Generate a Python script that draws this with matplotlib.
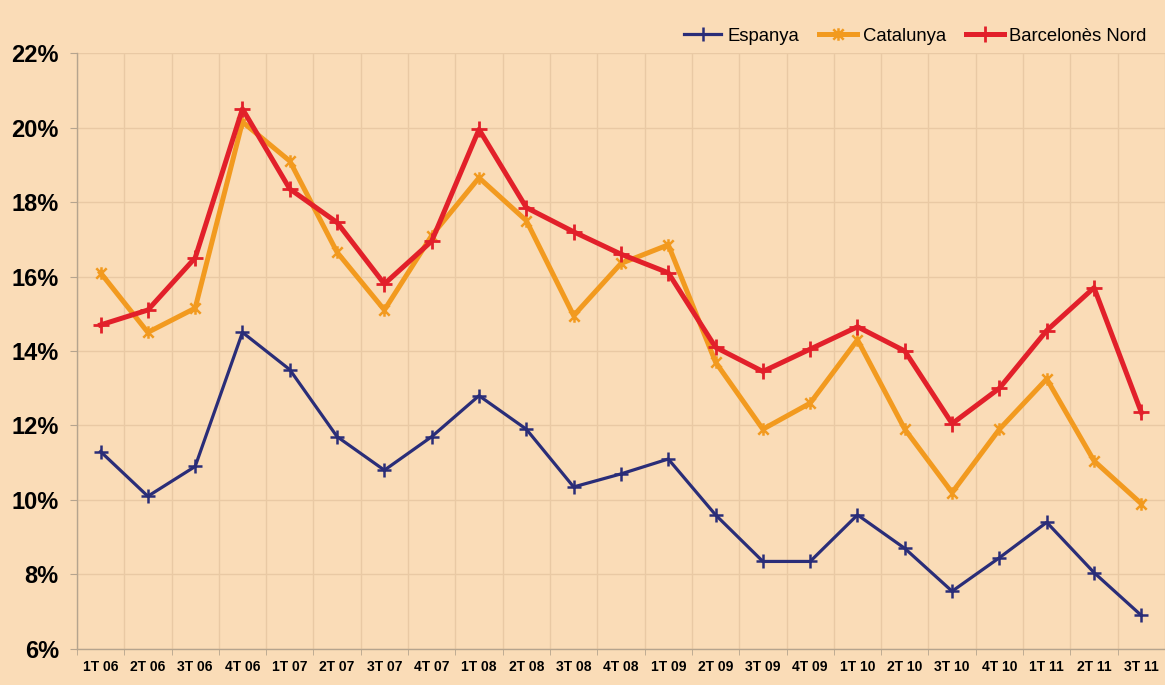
import numpy as np
import matplotlib
matplotlib.use("Agg")
import matplotlib.pyplot as plt
from matplotlib.path import Path
from matplotlib.ticker import FixedLocator, PercentFormatter

quarters = ["1T 06", "2T 06", "3T 06", "4T 06", "1T 07", "2T 07", "3T 07", "4T 07",
            "1T 08", "2T 08", "3T 08", "4T 08", "1T 09", "2T 09", "3T 09", "4T 09",
            "1T 10", "2T 10", "3T 10", "4T 10", "1T 11", "2T 11", "3T 11"]
espanya = [11.3, 10.1, 10.9, 14.5, 13.5, 11.7, 10.8, 11.7, 12.8, 11.9, 10.35,
           10.7, 11.1, 9.6, 8.35, 8.35, 9.6, 8.7, 7.55, 8.45, 9.4, 8.05, 6.9]
catalunya = [16.1, 14.5, 15.15, 20.15, 19.1, 16.65, 15.1, 17.1, 18.65, 17.5, 14.95,
             16.35, 16.85, 13.7, 11.9, 12.6, 14.3, 11.9, 10.2, 11.9, 13.25, 11.05, 9.9]
barcelones = [14.7, 15.1, 16.5, 20.5, 18.35, 17.45, 15.8, 16.95, 19.95, 17.85, 17.2,
              16.6, 16.1, 14.1, 13.45, 14.05, 14.65, 14.0, 12.05, 13.0, 14.55, 15.7, 12.35]
yticks = [6, 8, 10, 12, 14, 16, 18, 20, 22]

bg = "#FADCB7"
grid_c = "#E9C9A4"
axis_c = "#B5A48E"

# Excel-like star marker: x plus vertical bar
star = Path([(-1, -1), (1, 1), (-1, 1), (1, -1), (0, -1.2), (0, 1.2)],
            [Path.MOVETO, Path.LINETO, Path.MOVETO, Path.LINETO, Path.MOVETO, Path.LINETO])

plt.rcParams['font.family'] = ['Liberation Sans', 'DejaVu Sans']
fig = plt.figure(figsize=(11.65, 6.85), dpi=100, facecolor=bg)
ax = fig.add_axes([0.066, 0.0526, 0.934, 0.870])
ax.set_facecolor(bg)

x = np.arange(len(quarters))
ax.plot(x, espanya, color="#2A2D78", lw=2.3, marker='+', ms=10, mew=1.8, label="Espanya", zorder=3)
ax.plot(x, catalunya, color="#F29A1F", lw=3.6, marker=star, ms=9, mew=1.8, label="Catalunya", zorder=4)
ax.plot(x, barcelones, color="#E2202A", lw=3.6, marker='+', ms=11, mew=2.0, label="Barcelonès Nord", zorder=5)

ax.set_xlim(-0.5, len(quarters) - 0.5)
ax.set_ylim(6, 22)
ax.set_yticks(yticks)
ax.yaxis.set_major_formatter(PercentFormatter(decimals=0))
ax.set_xticks(x)
ax.set_xticklabels(quarters)
ax.xaxis.set_minor_locator(FixedLocator(np.arange(-0.5, len(quarters), 1.0)))

ax.grid(axis='y', which='major', color=grid_c, lw=1.0, zorder=0)
ax.grid(axis='x', which='minor', color=grid_c, lw=1.0, zorder=0)
ax.tick_params(axis='x', which='major', length=0, pad=8, labelsize=10)
ax.tick_params(axis='x', which='minor', length=4, color=axis_c, direction='out')
ax.tick_params(axis='y', which='major', length=5, color=axis_c, pad=8, labelsize=17)
for lab in ax.get_xticklabels():
    lab.set_fontweight('bold')
for lab in ax.get_yticklabels():
    lab.set_fontweight('bold')

for s in ['top', 'right']:
    ax.spines[s].set_visible(False)
for s in ['left', 'bottom']:
    ax.spines[s].set_color(axis_c)
    ax.spines[s].set_linewidth(1.0)

leg = ax.legend(loc='upper right', bbox_to_anchor=(0.9985, 1.07), ncol=3, frameon=False,
                fontsize=13.3, handlelength=2.05, columnspacing=1.1, handletextpad=0.3)

fig.savefig("out.png", dpi=100, facecolor=bg)
